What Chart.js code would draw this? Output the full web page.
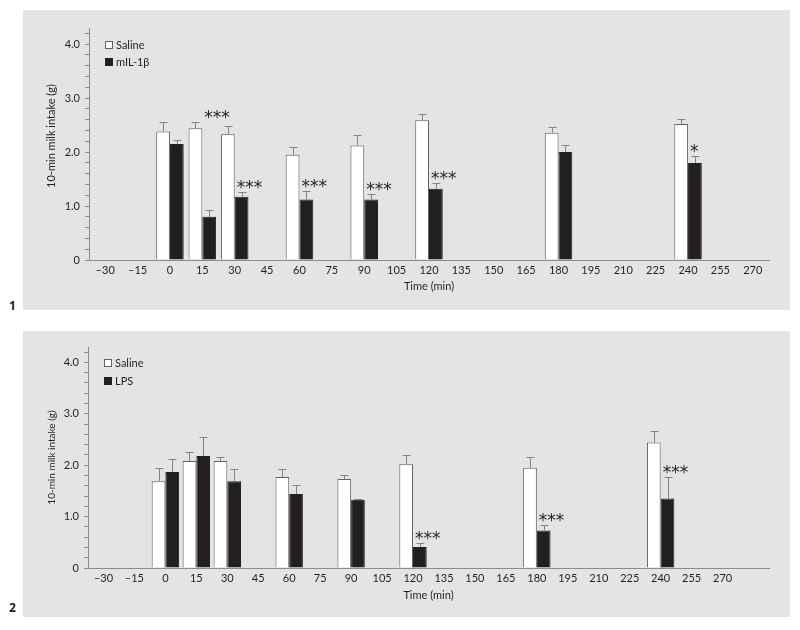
<!DOCTYPE html>
<html>
<head>
<meta charset="utf-8">
<script src="https://cdn.jsdelivr.net/npm/chart.js@4.4.1/dist/chart.umd.min.js"></script>
<style>
  body { margin: 0; background: #fff; width: 800px; height: 630px; position: relative; overflow: hidden; }
  .panel { position: absolute; left: 23px; width: 767px; background: #e3e4e5; }
  .num { position: absolute; left: 9px; font: bold 12px "Noto Sans", sans-serif; color: #231f20; line-height: 12px; }
</style>
</head>
<body>
<div class="panel" style="top:10px;height:300px"><canvas id="chart1" width="767" height="300"></canvas></div>
<div class="panel" style="top:331px;height:286px"><canvas id="chart2" width="767" height="286"></canvas></div>
<div class="num" style="top:300px">1</div>
<div class="num" style="top:602px">2</div>
<script>
// --- Datos ---
const timeTicks1 = ['–30', '–15', '0', '15', '30', '45', '60', '75', '90', '105', '120', '135',
  '150', '165', '180', '195', '210', '225', '240', '255', '270'];
const timeTicks2 = [...timeTicks1, ''];
const sampleTimes = [0, 15, 30, 60, 90, 120, 180, 240];

// panel 1: saline vs mIL-1β
const saline1 = [2.38, 2.44, 2.33, 1.95, 2.12, 2.59, 2.36, 2.52];
const salineErr1 = [0.18, 0.12, 0.16, 0.15, 0.20, 0.12, 0.11, 0.09];
const mil1 = [2.15, 0.80, 1.17, 1.12, 1.12, 1.32, 2.00, 1.80];
const milErr1 = [0.08, 0.12, 0.09, 0.16, 0.10, 0.11, 0.13, 0.12];
const stars1 = ['', '***', '***', '***', '***', '***', '', '*'];

// panel 2: saline vs LPS
const saline2 = [1.69, 2.08, 2.08, 1.77, 1.73, 2.02, 1.95, 2.44];
const salineErr2 = [0.26, 0.18, 0.08, 0.16, 0.08, 0.18, 0.21, 0.23];
const lps2 = [1.87, 2.18, 1.69, 1.44, 1.33, 0.41, 0.73, 1.35];
const lpsErr2 = [0.26, 0.37, 0.24, 0.17, 0.01, 0.08, 0.11, 0.43];
const stars2 = ['', '', '', '', '', '***', '***', '***'];

const FONT = 'Lato, "Noto Sans", sans-serif';
const INK = '#231f20';
const AXIS = '#8a8b8d';

function toPoints(values) {
  return sampleTimes.map((t, i) => ({ x: String(t), y: values[i] }));
}

// barras de error, asteriscos, leyenda y título del eje y
const extrasPlugin = {
  id: 'extras',
  afterDatasetsDraw(chart, args, opts) {
    const ctx = chart.ctx;
    const y = chart.scales.y;
    const area = chart.chartArea;
    const metas = [chart.getDatasetMeta(0), chart.getDatasetMeta(1)];
    const errs = opts.errors;
    ctx.save();
    // error bars (solo hacia arriba)
    ctx.strokeStyle = '#838486';
    ctx.lineWidth = 1;
    metas.forEach((meta, d) => {
      const vals = chart.data.datasets[d].data;
      meta.data.forEach((bar, i) => {
        const top = y.getPixelForValue(vals[i].y + errs[d][i]);
        const x = Math.round(bar.x) + 0.5;
        ctx.beginPath();
        ctx.moveTo(x, bar.y);
        ctx.lineTo(x, Math.round(top) + 0.5);
        ctx.moveTo(x - 4, Math.round(top) + 0.5);
        ctx.lineTo(x + 4, Math.round(top) + 0.5);
        ctx.stroke();
      });
    });
    // asteriscos sobre la barra negra
    ctx.fillStyle = INK;
    ctx.font = '17px "DejaVu Sans"';
    ctx.textAlign = 'left';
    ctx.textBaseline = 'alphabetic';
    const d0 = chart.data.datasets[0].data, d1 = chart.data.datasets[1].data;
    opts.stars.forEach((s, i) => {
      if (!s) return;
      let level = d1[i].y + errs[1][i];
      // si la siguiente barra está pegada, subir por encima del par
      if (sampleTimes.includes(sampleTimes[i] + 15)) {
        level = Math.max(level, d0[i].y + errs[0][i]);
      }
      const bar = metas[1].data[i];
      ctx.fillText(s, bar.x - bar.width / 2 + 2, y.getPixelForValue(level) + 1);
    });
    // leyenda
    ctx.font = '11px ' + FONT;
    ctx.textBaseline = 'middle';
    chart.data.datasets.forEach((ds, d) => {
      const cy = area.top + opts.legendTop + d * opts.legendGap;
      const bx = area.left + 16;
      ctx.fillStyle = ds.backgroundColor;
      ctx.fillRect(bx, cy - 4, 8, 8);
      ctx.strokeStyle = ds.borderColor;
      ctx.strokeRect(bx + 0.5, cy - 3.5, 7, 7);
      ctx.fillStyle = INK;
      ctx.fillText(ds.label, bx + 11, cy);
    });
    // título eje y
    ctx.translate(28.7, opts.yTitleY);
    ctx.rotate(-Math.PI / 2);
    ctx.textAlign = 'center';
    ctx.font = opts.yTitleSize + 'px ' + FONT;
    ctx.fillText('10-min milk intake (g)', 0, 0);
    ctx.restore();
  }
};

function makeChart(id, ticks, saline, other, otherLabel, errs, stars, cfg) {
  return new Chart(document.getElementById(id), {
    type: 'bar',
    data: {
      labels: ticks,
      datasets: [
        { label: 'Saline', data: toPoints(saline), backgroundColor: '#ffffff', borderColor: '#616264', borderWidth: 1 },
        { label: otherLabel, data: toPoints(other), backgroundColor: INK, borderColor: INK, borderWidth: 1 }
      ]
    },
    options: {
      responsive: false,
      animation: false,
      events: [],
      categoryPercentage: cfg.catPct,
      barPercentage: 1,
      layout: { padding: { left: 0, top: cfg.top, right: 21, bottom: cfg.bottom } },
      plugins: {
        legend: { display: false },
        tooltip: { enabled: false },
        extras: { errors: errs, stars: stars, legendTop: cfg.legendTop, legendGap: cfg.legendGap,
          yTitleY: cfg.yTitleY, yTitleSize: cfg.yTitleSize }
      },
      scales: {
        x: {
          grid: { display: false, drawTicks: false },
          border: { display: true, color: AXIS, width: 1 },
          ticks: { color: INK, font: { family: FONT, size: 11 }, padding: 4, autoSkip: false, maxRotation: 0 },
          title: { display: true, text: 'Time (min)', color: INK, font: { family: FONT, size: 11 }, padding: { top: 0, bottom: cfg.xTitlePad } },
          afterFit(s) { s.height = 40; }
        },
        y: {
          min: 0,
          max: 4.3,
          grid: { display: true, drawOnChartArea: false, drawTicks: true, tickLength: 4, color: AXIS },
          border: { display: true, color: AXIS, width: 1 },
          ticks: {
            stepSize: 0.2,
            includeBounds: false,
            autoSkip: false,
            padding: 5,
            color: INK,
            font: { family: FONT, size: 11 },
            callback(v) {
              if (Math.abs(v - Math.round(v)) > 1e-6) return '';
              return Math.round(v) === 0 ? '0' : Math.round(v).toFixed(1);
            }
          },
          afterFit(s) { s.width = cfg.yWidth; }
        }
      }
    },
    plugins: [extrasPlugin]
  });
}

makeChart('chart1', timeTicks1, saline1, mil1, 'mIL-1β', [salineErr1, milErr1], stars1,
  { catPct: 0.85, top: 18, bottom: 10, yWidth: 66, xTitlePad: 7, legendTop: 17, legendGap: 17, yTitleY: 126, yTitleSize: 11 });
makeChart('chart2', timeTicks2, saline2, lps2, 'LPS', [salineErr2, lpsErr2], stars2,
  { catPct: 0.885, top: 16, bottom: 9, yWidth: 65, xTitlePad: 6, legendTop: 16, legendGap: 18, yTitleY: 126.5, yTitleSize: 10 });
</script>
</body>
</html>
